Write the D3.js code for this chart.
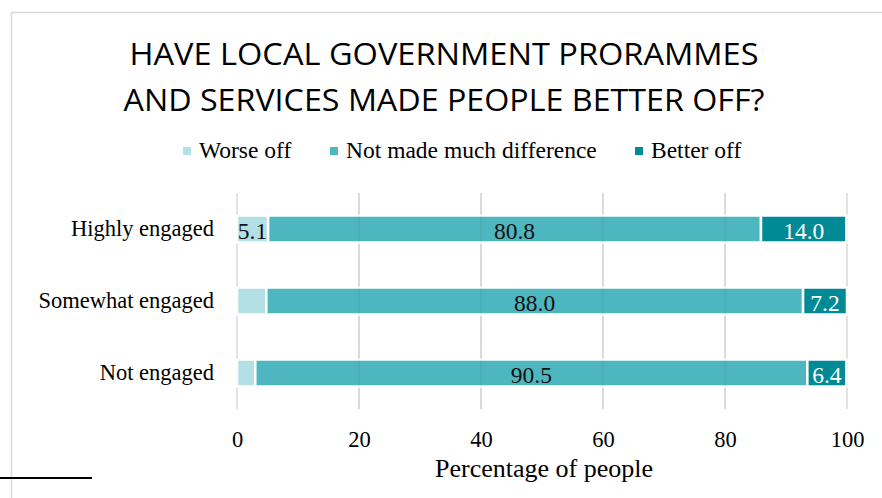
<!DOCTYPE html>
<html>
<head>
<meta charset="utf-8">
<script src="https://cdn.jsdelivr.net/npm/d3@7"></script>
<style>
  html, body { margin: 0; padding: 0; background: #fff; }
  svg { display: block; }
</style>
</head>
<body>
<svg id="chart" width="882" height="498"></svg>
<script>
// Survey results: share of people by perceived effect of local programmes
const categories = ["Highly engaged", "Somewhat engaged", "Not engaged"];
const seriesNames = ["Worse off", "Not made much difference", "Better off"];
const worseOff = [5.1, 4.8, 3.0];
const noDifference = [80.8, 88.0, 90.5];
const betterOff = [14.0, 7.2, 6.4];
const worseOffLabelled = ["Highly engaged"];
const tickValues = [0, 20, 40, 60, 80, 100];
const titleLines = ["HAVE LOCAL GOVERNMENT PRORAMMES", "AND SERVICES MADE PEOPLE BETTER OFF?"];
const axisTitle = "Percentage of people";

const colors = ["#b3e0e5", "#4db6bf", "#008a95"];
const labelColors = ["#111", "#111", "#fff"];
const serif = "'Liberation Serif', 'Times New Roman', serif";

const svg = d3.select("#chart");

// outer chart frame and a rule below it
svg.append("rect")
  .attr("x", 11.5).attr("y", 12.5)
  .attr("width", 900).attr("height", 600)
  .attr("fill", "none").attr("stroke", "#d9d9d9").attr("stroke-width", 1.5);
svg.append("line")
  .attr("x1", 0).attr("x2", 92).attr("y1", 478).attr("y2", 478)
  .attr("stroke", "#000").attr("stroke-width", 2);

// title
svg.selectAll("text.title").data(titleLines).join("text")
  .attr("class", "title")
  .attr("x", 444)
  .attr("y", (d, i) => 65 + i * 46)
  .attr("text-anchor", "middle")
  .attr("font-family", "'Open Sans', 'Noto Sans', sans-serif")
  .attr("font-size", 31)
  .attr("fill", "#000")
  .attr("textLength", (d, i) => i === 0 ? 629 : 641)
  .attr("lengthAdjust", "spacingAndGlyphs")
  .text(d => d);

// legend
const legendX = [183, 330, 635];
const legend = svg.append("g").selectAll("g").data(seriesNames).join("g")
  .attr("transform", (d, i) => `translate(${legendX[i]},0)`);
legend.append("rect")
  .attr("x", 0).attr("y", 147).attr("width", 8).attr("height", 8)
  .attr("fill", (d, i) => colors[i]);
legend.append("text")
  .attr("x", 16).attr("y", 158)
  .attr("font-family", serif).attr("font-size", 23.5).attr("fill", "#000")
  .text(d => d);

// scales
const x = d3.scaleLinear().domain([0, 100]).range([237, 847]);
const y = d3.scaleBand().domain(categories).range([193, 409])
  .paddingInner(0.625).paddingOuter(0.3125);

// vertical gridlines
const grid = svg.append("g");
grid.selectAll("line").data(tickValues).join("line")
  .attr("x1", d => x(d)).attr("x2", d => x(d))
  .attr("y1", 193).attr("y2", 409)
  .attr("stroke", "#d9d9d9").attr("stroke-width", 1.5);

// stacked bars
const rows = categories.map((c, i) => ({ cat: c, values: [worseOff[i], noDifference[i], betterOff[i]] }));
const stack = d3.stack().keys([0, 1, 2]).value((d, k) => d.values[k]);
const layers = stack(rows);

const layerG = svg.append("g").selectAll("g").data(layers).join("g")
  .attr("fill", (d, i) => colors[i]);
layerG.selectAll("rect").data(d => d).join("rect")
  .attr("x", d => x(d[0]))
  .attr("y", d => y(d.data.cat))
  .attr("width", d => x(d[1]) - x(d[0]))
  .attr("height", y.bandwidth())
  .attr("stroke", "#fff").attr("stroke-width", 2.5);

// gridlines faintly showing through the bars
svg.append("g").selectAll("line").data(tickValues.slice(1, -1)).join("line")
  .attr("x1", d => x(d)).attr("x2", d => x(d))
  .attr("y1", 193).attr("y2", 409)
  .attr("stroke", "#000").attr("stroke-opacity", 0.05).attr("stroke-width", 1.5);

// data labels
layers.forEach((layer, k) => {
  svg.append("g").selectAll("text")
    .data(layer.filter(d => k !== 0 || worseOffLabelled.includes(d.data.cat)))
    .join("text")
    .attr("x", d => (x(d[0]) + x(d[1])) / 2)
    .attr("y", d => y(d.data.cat) + y.bandwidth() / 2)
    .attr("dy", "0.42em")
    .attr("text-anchor", "middle")
    .attr("font-family", serif).attr("font-size", 23.5)
    .attr("fill", labelColors[k])
    .text(d => d3.format(".1f")(d.data.values[k]));
});

// category labels
const yAxis = svg.append("g")
  .attr("transform", `translate(${x(0)},0)`)
  .call(d3.axisLeft(y).tickSize(0).tickPadding(23));
yAxis.select(".domain").remove();
yAxis.selectAll("text")
  .attr("font-family", serif).attr("font-size", 22.5).attr("fill", "#000")
  .attr("dy", "0.3em");

// value axis tick labels
const xAxis = svg.append("g")
  .attr("transform", "translate(0,409)")
  .call(d3.axisBottom(x).tickValues(tickValues).tickSize(0).tickPadding(0));
xAxis.select(".domain").remove();
xAxis.selectAll("text")
  .attr("font-family", serif).attr("font-size", 22.5).attr("fill", "#000")
  .attr("dy", null).attr("y", 38);

// axis title
svg.append("text")
  .attr("x", (x(0) + x(100)) / 2 + 2)
  .attr("y", 477)
  .attr("text-anchor", "middle")
  .attr("font-family", serif).attr("font-size", 26).attr("fill", "#000")
  .text(axisTitle);
</script>
</body>
</html>
